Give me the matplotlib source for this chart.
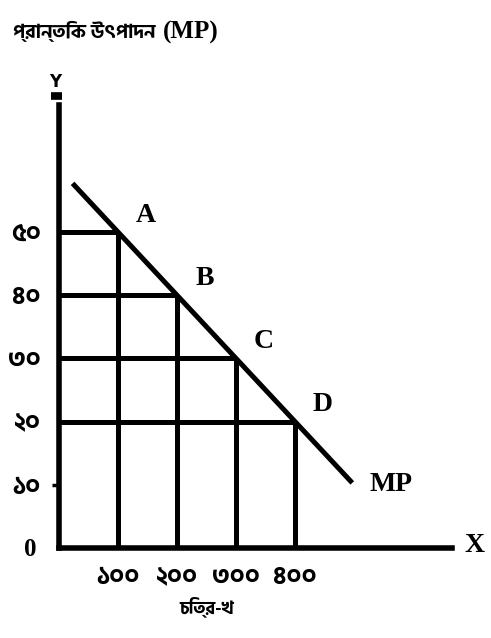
import matplotlib
matplotlib.use('Agg')
import matplotlib.pyplot as plt

# values
y_labels = ['১০', '২০', '৩০', '৪০', '৫০']
y_vals = [10, 20, 30, 40, 50]
x_labels = ['১০০', '২০০', '৩০০', '৪০০']
x_vals = [100, 200, 300, 400]
points = ['A', 'B', 'C', 'D']
pt_x = [100, 200, 300, 400]
pt_y = [50, 40, 30, 20]
mp_x = [23, 497]
mp_y = [57.7, 10.3]

bn = ['Hind Siliguri', 'DejaVu Sans']
serif = 'Liberation Serif'

W, H = 491, 638
fig = plt.figure(figsize=(W / 100, H / 100), dpi=100)
# origin at pixel (59, 548), y axis top at 105
ax = fig.add_axes([59 / W, 90 / H, 393 / W, 443 / H])
ax.set_xlim(0, 666)
ax.set_ylim(0, 70.1)

for s in ['top', 'right']:
    ax.spines[s].set_visible(False)
for s in ['left', 'bottom']:
    ax.spines[s].set_linewidth(4)
    ax.spines[s].set_capstyle('projecting')

# grid lines from the axes up to each point
for x, y in zip(pt_x, pt_y):
    ax.plot([0, x], [y, y], color='black', lw=3.6, solid_capstyle='butt')
    ax.plot([x, x], [0, y], color='black', lw=3.6, solid_capstyle='butt')

# MP line
ax.plot(mp_x, mp_y, color='black', lw=3.6, solid_capstyle='butt')

for name, x, y in zip(points, pt_x, pt_y):
    ax.annotate(name, xy=(x, y), xytext=(20, 12), textcoords='offset points',
                ha='center', va='center', fontsize=20, fontweight='bold', family=serif)
ax.annotate('MP', xy=(mp_x[1], mp_y[1]), xytext=(28, -1), textcoords='offset points',
            ha='center', va='center', fontsize=20, fontweight='bold', family=serif)

ax.set_yticks(y_vals, y_labels, family=bn, fontweight='bold', fontsize=18)
ax.set_xticks(x_vals, x_labels, family=bn, fontweight='bold', fontsize=18)
ax.tick_params(axis='both', length=0)
ax.tick_params(axis='y', pad=13)
ax.tick_params(axis='x', pad=13)
ax.yaxis.remove_overlapping_locs = False
ax.set_yticks([10], minor=True)
ax.tick_params(axis='y', which='minor', length=5, width=2.5)

ax.annotate('0', xy=(0, 0), xytext=(-21, -1), textcoords='offset points',
            ha='center', va='center', fontsize=18, fontweight='bold', family=serif)
ax.annotate('X', xy=(666, 0), xytext=(16, 2), textcoords='offset points',
            ha='center', va='center', fontsize=20, fontweight='bold', family=serif)
ax.text(-0.01, 1.032, 'Y', transform=ax.transAxes, ha='center', va='bottom',
        fontsize=12, fontweight='bold', family='DejaVu Sans')
# small bar under the Y
ax.plot([-0.0204, 0.0076], [1.0203, 1.0203], transform=ax.transAxes,
        color='black', lw=5.5, solid_capstyle='butt', clip_on=False)

fig.text(13 / W, 1 - 32 / H, 'প্রান্তিক উৎপাদন', family=bn, fontweight='bold',
         fontsize=14, ha='left', va='center')
fig.text(163 / W, 1 - 32 / H, '(MP)', family=serif, fontweight='bold',
         fontsize=18, ha='left', va='center')
fig.text(207 / W, 1 - 607 / H, 'চিত্র-খ', family=bn, fontweight='bold',
         fontsize=13, ha='center', va='center')

fig.savefig('out.png', dpi=100)
